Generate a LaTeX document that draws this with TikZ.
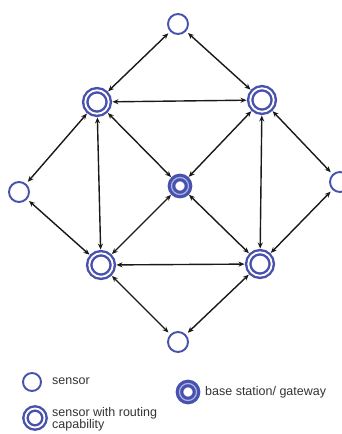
\documentclass[tikz,border=0pt]{standalone}
\usepackage{fontspec}
\setmainfont{Liberation Sans}
\usetikzlibrary{arrows.meta}
\definecolor{nblue}{RGB}{72,82,172}
\definecolor{lblue}{RGB}{170,180,230}
\tikzset{
  sensor/.style={circle, draw=nblue, line width=1.9pt, fill=white, minimum size=20pt, inner sep=0pt},
  router/.style={circle, draw=nblue, double=white, double distance=1.8pt, line width=2.4pt, fill=white, minimum size=23.5pt, inner sep=0pt},
  base/.style={circle, draw=nblue, double=lblue, double distance=1.2pt, line width=3.2pt, fill=white, minimum size=17pt, inner sep=0pt},
  link/.style={line width=1.4pt, black!90, {Stealth[length=6pt,width=5pt]}-{Stealth[length=6pt,width=5pt]}, shorten <=2.5pt, shorten >=2.5pt},
  lbl/.style={anchor=west, font=\fontsize{12.5}{12.5}\selectfont, text=black!80, inner sep=0pt, align=left}
}
\begin{document}
\begin{tikzpicture}[x=1pt,y=-1pt]
\useasboundingbox (0,0) rectangle (342,434);
\node[sensor] (top) at (178,24) {};
\node[router] (ul) at (97,102) {};
\node[router] (ur) at (262,100) {};
\node[sensor] (l) at (19,192) {};
\node[base] (c) at (180,186) {};
\node[sensor] (r) at (340,182) {};
\node[router] (ll) at (101,265) {};
\node[router] (lr) at (260,264) {};
\node[sensor] (b) at (178,342) {};

\draw[link] (top) -- (ul);
\draw[link] (top) -- (ur);
\draw[link] (ul) -- (ur);
\draw[link] (ul) -- (ll);
\draw[link] (ur) -- (lr);
\draw[link] (ll) -- (lr);
\draw[link] (ul) -- (c);
\draw[link] (ur) -- (c);
\draw[link] (ll) -- (c);
\draw[link] (lr) -- (c);
\draw[link] (l) -- (ul);
\draw[link] (l) -- (ll);
\draw[link] (r) -- (ur);
\draw[link] (r) -- (lr);
\draw[link] (b) -- (ll);
\draw[link] (b) -- (lr);

% legend
\node[sensor, minimum size=18pt] (ls) at (32,382) {};
\node[lbl] (lst) at (52,381) {sensor};
\node[base, minimum size=17pt] (lb) at (188,392) {};
\node[lbl] (lbt) at (205,392) {base station/ gateway};
\node[router, minimum size=19pt] (lr2) at (35,418) {};
\node[lbl, anchor=north west] (lrt) at (52,407) {sensor with routing\\capability};
\end{tikzpicture}
\end{document}
